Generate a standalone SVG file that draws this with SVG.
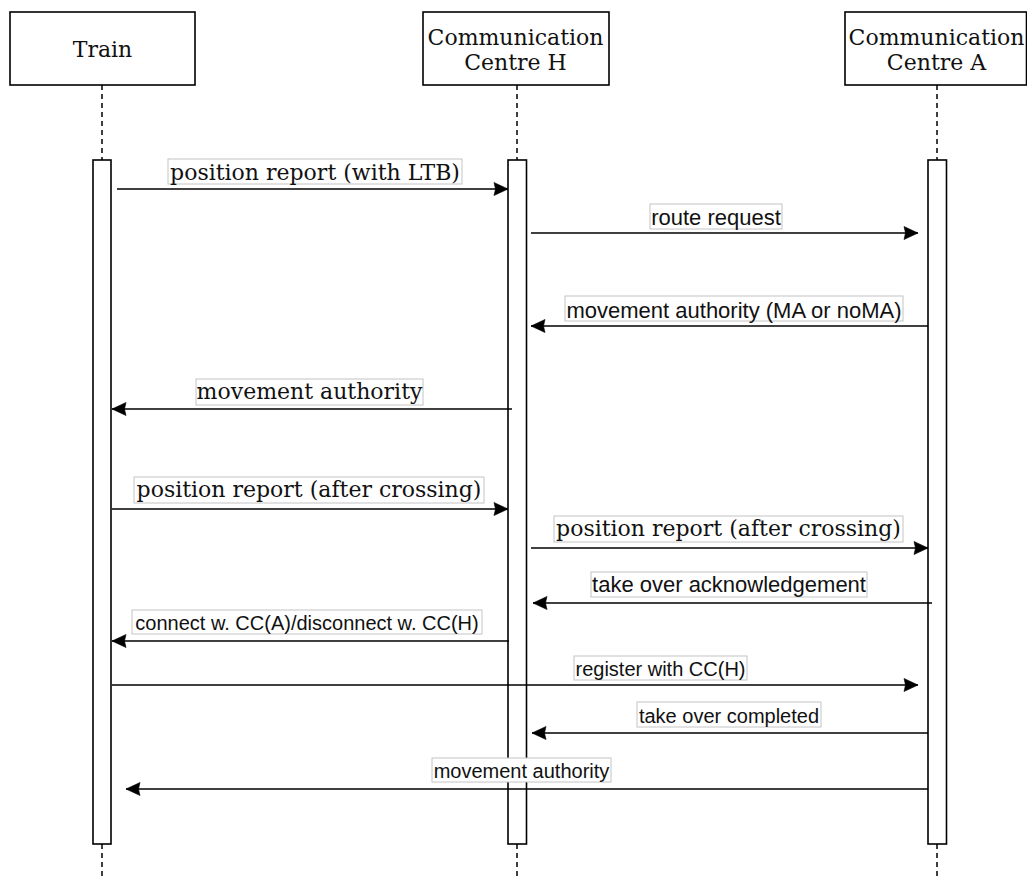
<svg xmlns="http://www.w3.org/2000/svg" width="1027" height="880" viewBox="0 0 1027 880">
  <style>
    .box { fill: #ffffff; stroke: #000000; stroke-width: 1.6; }
    .life { stroke: #000000; stroke-width: 1.5; stroke-dasharray: 5 4; fill: none; }
    .act { fill: #ffffff; stroke: #000000; stroke-width: 1.6; }
    .head { font-family: "DejaVu Serif", serif; font-size: 22px; fill: #111111; text-anchor: middle; }
    .msg { stroke: #000000; stroke-width: 1.6; fill: none; marker-end: url(#arrow); }
    .lbl { fill: #ffffff; stroke: #c4c4c4; stroke-width: 1; }
    .serif { font-family: "DejaVu Serif", serif; font-size: 22px; fill: #111111; text-anchor: middle; }
    .sans { font-family: "Liberation Sans", Arial, sans-serif; font-size: 22px; fill: #111111; text-anchor: middle; }
    .sans-s { font-family: "Liberation Sans", Arial, sans-serif; font-size: 20px; fill: #111111; text-anchor: middle; }
  </style>
  <defs>
    <!-- filled block arrowhead with a shallow notch -->
    <marker id="arrow" markerUnits="userSpaceOnUse" markerWidth="18" markerHeight="16" viewBox="-16 -8 18 16" refX="0" refY="0" orient="auto">
      <path d="M0,0 L-14,-6.5 L-12.5,0 L-14,6.5 Z" fill="#000000" stroke="#000000" stroke-width="0.6" stroke-linejoin="miter"/>
    </marker>
  </defs>
  <rect width="1027" height="880" fill="#ffffff"/>

  <!-- lifeline: Train -->
  <g id="train">
    <rect class="box" x="10" y="12" width="185" height="73"/>
    <text class="head" x="102.5" y="57">Train</text>
    <line class="life" x1="102" y1="85" x2="102" y2="160"/>
    <line class="life" x1="102" y1="844" x2="102" y2="880"/>
    <rect class="act" x="93" y="160" width="18" height="684"/>
  </g>

  <!-- lifeline: Communication Centre H -->
  <g id="cc-h">
    <rect class="box" x="423" y="12" width="186" height="73"/>
    <text class="head" x="515.5" y="45">Communication</text>
    <text class="head" x="515.5" y="70">Centre H</text>
    <line class="life" x1="517" y1="85" x2="517" y2="160"/>
    <line class="life" x1="517" y1="844" x2="517" y2="880"/>
    <rect class="act" x="508" y="160" width="18.5" height="684"/>
  </g>

  <!-- lifeline: Communication Centre A -->
  <g id="cc-a">
    <rect class="box" x="845" y="12" width="181.5" height="73"/>
    <text class="head" x="936.5" y="45">Communication</text>
    <text class="head" x="936.5" y="70">Centre A</text>
    <line class="life" x1="937" y1="85" x2="937" y2="160"/>
    <line class="life" x1="937" y1="844" x2="937" y2="880"/>
    <rect class="act" x="928" y="160" width="18.5" height="684"/>
  </g>

  <!-- messages -->
  <g id="messages">
    <line class="msg" x1="117" y1="189" x2="508" y2="189"/>
    <rect class="lbl" x="168" y="159" width="294" height="25"/>
    <text class="serif" x="315" y="180">position report (with LTB)</text>

    <line class="msg" x1="531" y1="233" x2="918" y2="233"/>
    <rect class="lbl" x="650" y="204" width="132" height="25"/>
    <text class="sans" x="716" y="225">route request</text>

    <line class="msg" x1="928" y1="326" x2="531" y2="326"/>
    <rect class="lbl" x="565" y="296" width="338" height="25"/>
    <text class="sans" x="734" y="318">movement authority (MA or noMA)</text>

    <line class="msg" x1="512" y1="409" x2="112" y2="409"/>
    <rect class="lbl" x="196" y="379" width="227" height="26"/>
    <text class="serif" x="309.5" y="399">movement authority</text>

    <line class="msg" x1="112" y1="509" x2="508" y2="509"/>
    <rect class="lbl" x="134" y="477" width="350" height="26"/>
    <text class="serif" x="309" y="497">position report (after crossing)</text>

    <line class="msg" x1="531" y1="548" x2="928" y2="548"/>
    <rect class="lbl" x="554" y="516" width="349" height="26"/>
    <text class="serif" x="728.5" y="536">position report (after crossing)</text>

    <line class="msg" x1="932" y1="603" x2="533" y2="603"/>
    <rect class="lbl" x="591" y="572" width="276" height="25"/>
    <text class="sans" x="729" y="592">take over acknowledgement</text>

    <line class="msg" x1="509" y1="641" x2="112" y2="641"/>
    <rect class="lbl" x="132" y="610" width="350" height="24"/>
    <text class="sans-s" x="307" y="630">connect w. CC(A)/disconnect w. CC(H)</text>

    <line class="msg" x1="112" y1="685" x2="918" y2="685"/>
    <rect class="lbl" x="574" y="656" width="173" height="24"/>
    <text class="sans-s" x="660.5" y="675.5">register with CC(H)</text>

    <line class="msg" x1="928" y1="733" x2="532" y2="733"/>
    <rect class="lbl" x="637" y="702" width="184" height="25"/>
    <text class="sans-s" x="729" y="722.5">take over completed</text>

    <line class="msg" x1="928" y1="789" x2="126" y2="789"/>
    <rect class="lbl" x="432" y="758" width="179" height="24"/>
    <text class="sans-s" x="521.5" y="778">movement authority</text>
  </g>
</svg>
